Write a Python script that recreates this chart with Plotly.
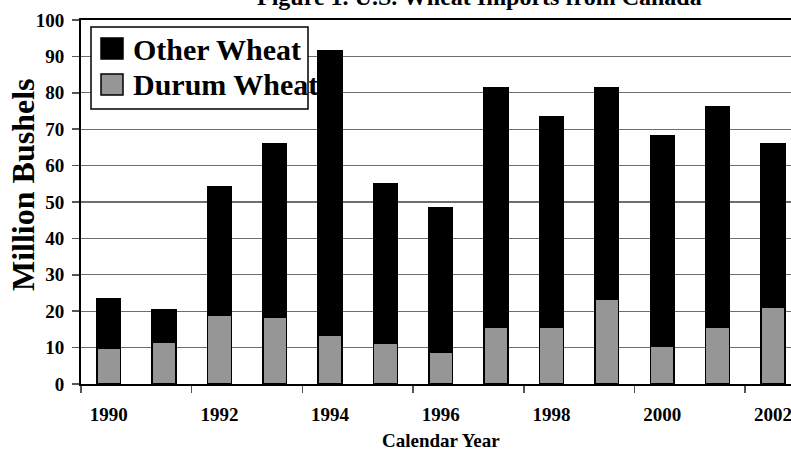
import plotly.graph_objects as go

years = [1990, 1991, 1992, 1993, 1994, 1995, 1996, 1997, 1998, 1999, 2000, 2001, 2002]
durum_wheat = [9.8, 11.6, 18.9, 18.4, 13.3, 11.1, 8.7, 15.5, 15.5, 23.4, 10.4, 15.5, 21.2]
other_wheat = [13.6, 8.9, 35.2, 47.5, 78.2, 44.0, 39.6, 65.9, 57.9, 58.0, 57.9, 60.8, 44.9]
tick_years = [1990, 1992, 1994, 1996, 1998, 2000, 2002]
tick_labels = [str(y) for y in tick_years]

title_text = "Figure 1. U.S. Wheat Imports from Canada"
FONT = "Liberation Serif, Times New Roman, serif"

W, H = 791, 452
ML, MR, MT, MB = 81, 0, 20, 68
PW = W - ML - MR
PH = H - MT - MB


def px(x):
    return (x - ML) / PW


def py(y):
    return (H - MB - y) / PH


fig = go.Figure()
fig.add_trace(go.Bar(
    x=years, y=durum_wheat, name="Durum Wheat", width=0.43,
    marker=dict(color="#969696", line=dict(color="black", width=1.5)),
    showlegend=False,
))
fig.add_trace(go.Bar(
    x=years, y=other_wheat, name="Other Wheat", width=0.43,
    marker=dict(color="black", line=dict(color="black", width=1.5)),
    showlegend=False,
))

# Manual legend
shapes = [
    dict(type="rect", xref="paper", yref="paper", x0=px(91), x1=px(308), y0=py(109), y1=py(27),
         line=dict(color="black", width=1.5), fillcolor="white", layer="above"),
    dict(type="rect", xref="paper", yref="paper", x0=px(101), x1=px(123), y0=py(59), y1=py(38),
         line=dict(color="black", width=1.5), fillcolor="black", layer="above"),
    dict(type="rect", xref="paper", yref="paper", x0=px(101), x1=px(123), y0=py(95), y1=py(74),
         line=dict(color="black", width=1.5), fillcolor="#969696", layer="above"),
]
BOLD = dict(family=FONT, color="black", weight="bold")
annotations = [
    dict(text="Other Wheat", xref="paper", yref="paper", x=px(131), y=py(49),
         xanchor="left", yanchor="middle", showarrow=False, font=dict(BOLD, size=30)),
    dict(text="Durum Wheat", xref="paper", yref="paper", x=px(131), y=py(84),
         xanchor="left", yanchor="middle", showarrow=False, font=dict(BOLD, size=30)),
    dict(text=title_text, xref="paper", yref="paper", x=px(479), y=py(12),
         xanchor="center", yanchor="bottom", showarrow=False, font=dict(BOLD, size=24)),
    dict(text="Calendar Year", xref="paper", yref="paper", x=px(441), y=py(441),
         xanchor="center", yanchor="middle", showarrow=False, font=dict(BOLD, size=19)),
    dict(text="Million Bushels", xref="paper", yref="paper", x=px(23), y=py(185),
         xanchor="center", yanchor="middle", textangle=-90, showarrow=False,
         font=dict(BOLD, size=32)),
]

fig.update_layout(
    width=W, height=H,
    margin=dict(l=ML, r=MR, t=MT, b=MB, pad=0, autoexpand=False),
    barmode="stack",
    plot_bgcolor="white", paper_bgcolor="white",
    font=dict(family=FONT, color="black"),
    shapes=shapes, annotations=annotations,
    xaxis=dict(
        range=[1989.5, 1989.5 + 710 / 55.35], automargin=False,
        tickmode="array", tickvals=tick_years, ticktext=tick_labels,
        ticks="", showgrid=False, zeroline=False,
        showline=True, linecolor="black", linewidth=2, mirror=True,
        tickfont=dict(BOLD, size=19),
        ticklabelstandoff=12, ticklabeloverflow="allow",
        minor=dict(tickmode="array", tickvals=[1989.5 + 2 * i for i in range(7)],
                   ticks="outside", ticklen=7, tickcolor="#555", tickwidth=1.5),
    ),
    yaxis=dict(
        range=[0, 100], tickmode="linear", tick0=0, dtick=10, automargin=False,
        showgrid=True, gridcolor="#6e6e6e", gridwidth=1.2,
        zeroline=False, showline=True, linecolor="black", linewidth=2,
        ticks="outside", ticklen=7, tickcolor="#555", tickwidth=1.5,
        tickfont=dict(BOLD, size=19),
        ticklabelstandoff=4, ticklabeloverflow="allow",
    ),
)

fig.write_html(
    "out.html",
    config={"displayModeBar": False, "staticPlot": True},
    post_script="document.body.style.margin='0';document.body.style.overflow='hidden';",
)
